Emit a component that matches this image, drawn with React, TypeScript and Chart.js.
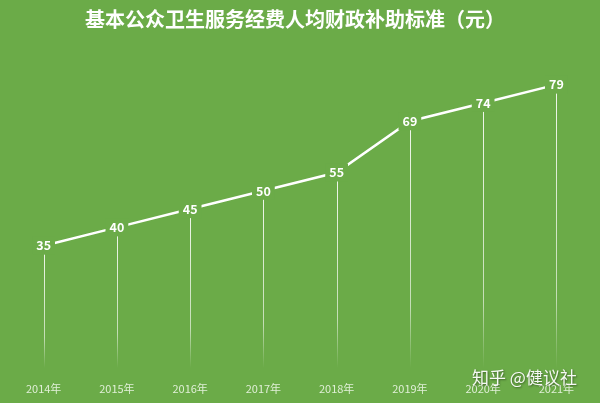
import React, {useEffect, useRef} from 'react';
import {Chart, registerables} from 'chart.js';

Chart.register(...registerables);

const years = ['2014年', '2015年', '2016年', '2017年', '2018年', '2019年', '2020年', '2021年'];
const subsidy = [35, 40, 45, 50, 55, 69, 74, 79];
const chartTitle = '基本公众卫生服务经费人均财政补助标准（元）';
const watermark = '知乎 @健议社';

const BG = '#6bab48';
const FONT = '"Noto Sans CJK SC", "Noto Sans", sans-serif';

// drop lines, value labels, title and watermark
const decorPlugin = {
    id: 'decor',
    beforeDraw(chart: any) {
        const {ctx, width, height} = chart;
        ctx.save();
        ctx.fillStyle = BG;
        ctx.fillRect(0, 0, width, height);
        ctx.restore();
    },
    beforeDatasetsDraw(chart: any) {
        const {ctx} = chart;
        const meta = chart.getDatasetMeta(0);
        const bottom = 368;
        ctx.save();
        meta.data.forEach((pt: any) => {
            const grad = ctx.createLinearGradient(0, pt.y, 0, bottom);
            grad.addColorStop(0, 'rgba(255,255,255,0.9)');
            grad.addColorStop(0.75, 'rgba(255,255,255,0.6)');
            grad.addColorStop(1, 'rgba(255,255,255,0)');
            ctx.strokeStyle = grad;
            ctx.lineWidth = 1;
            ctx.beginPath();
            ctx.moveTo(Math.round(pt.x) + 0.5, pt.y);
            ctx.lineTo(Math.round(pt.x) + 0.5, bottom);
            ctx.stroke();
        });
        ctx.restore();
    },
    afterDatasetsDraw(chart: any) {
        const {ctx} = chart;
        const meta = chart.getDatasetMeta(0);
        ctx.save();
        ctx.font = `600 12.5px ${FONT}`;
        ctx.textAlign = 'center';
        ctx.textBaseline = 'middle';
        meta.data.forEach((pt: any, i: number) => {
            const txt = String(subsidy[i]);
            const w = ctx.measureText(txt).width + 8;
            ctx.fillStyle = BG;
            ctx.fillRect(pt.x - w / 2, pt.y - 9, w, 18);
            ctx.fillStyle = '#ffffff';
            ctx.fillText(txt, pt.x, pt.y);
        });
        ctx.restore();
    },
    afterDraw(chart: any) {
        const {ctx} = chart;
        ctx.save();
        ctx.textAlign = 'center';
        ctx.textBaseline = 'middle';
        ctx.fillStyle = '#ffffff';
        ctx.font = `bold 20px ${FONT}`;
        ctx.fillText(chartTitle, 295, 19);

        ctx.font = `17px ${FONT}`;
        ctx.textAlign = 'left';
        ctx.shadowColor = 'rgba(0,0,0,0.45)';
        ctx.shadowBlur = 2;
        ctx.shadowOffsetX = 1;
        ctx.shadowOffsetY = 1;
        ctx.fillStyle = 'rgba(255,255,255,0.95)';
        ctx.fillText(watermark, 472, 378);
        ctx.restore();
    }
};

const App: React.FC = () => {
    const chartRef = useRef<HTMLCanvasElement | null>(null);
    const chartInstanceRef = useRef<Chart | null>(null);

    useEffect(() => {
        document.body.style.margin = '0';
        if (chartInstanceRef.current) {
            chartInstanceRef.current.destroy();
        }
        if (chartRef.current) {
            chartInstanceRef.current = new Chart(chartRef.current, {
                type: 'line',
                data: {
                    labels: years,
                    datasets: [
                        {
                            label: chartTitle,
                            data: subsidy,
                            borderColor: '#ffffff',
                            borderWidth: 2.5,
                            pointRadius: 0,
                            tension: 0,
                            fill: false
                        }
                    ]
                },
                options: {
                    animation: false,
                    responsive: false,
                    maintainAspectRatio: false,
                    layout: {padding: {left: 7, right: 7, top: 59, bottom: 0}},
                    plugins: {
                        legend: {display: false},
                        tooltip: {enabled: false},
                        title: {display: false}
                    },
                    scales: {
                        x: {
                            type: 'category',
                            offset: true,
                            grid: {display: false, drawTicks: false},
                            border: {display: false},
                            ticks: {
                                color: 'rgba(240,248,235,0.88)',
                                padding: 8,
                                maxRotation: 0,
                                font: {size: 11, family: FONT}
                            }
                        },
                        y: {
                            display: false,
                            min: 0,
                            max: 86
                        }
                    }
                },
                plugins: [decorPlugin]
            });
        }
        return () => {
            if (chartInstanceRef.current) {
                chartInstanceRef.current.destroy();
                chartInstanceRef.current = null;
            }
        };
    }, []);

    return (
        <div style={{position: 'relative', width: 600, height: 403}}>
            <canvas ref={chartRef} width="600" height="403"></canvas>
        </div>
    );
};

export default App;
